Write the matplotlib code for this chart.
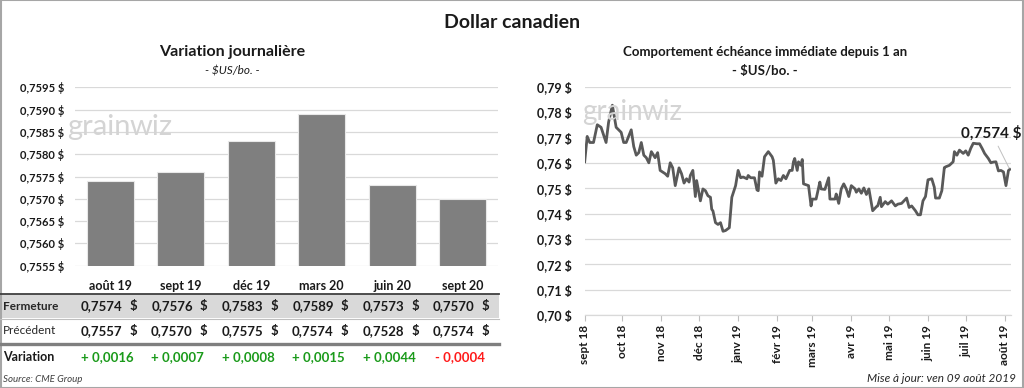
import matplotlib
matplotlib.use("Agg")
import matplotlib.pyplot as plt
import matplotlib.dates as mdates
import matplotlib.transforms as mtransforms
from matplotlib.patches import Rectangle
from matplotlib.lines import Line2D
import numpy as np
import datetime as dt

plt.rcParams['font.family'] = ['Lato', 'DejaVu Sans']

# ---------------- data ----------------
categories = ["août 19", "sept 19", "déc 19", "mars 20", "juin 20", "sept 20"]
fermeture = [0.7574, 0.7576, 0.7583, 0.7589, 0.7573, 0.7570]
precedent = [0.7557, 0.7570, 0.7575, 0.7574, 0.7528, 0.7574]
variation = [0.0016, 0.0007, 0.0008, 0.0015, 0.0044, -0.0004]

left_yticks = [0.7555, 0.7560, 0.7565, 0.7570, 0.7575, 0.7580, 0.7585, 0.7590, 0.7595]
right_yticks = [0.70, 0.71, 0.72, 0.73, 0.74, 0.75, 0.76, 0.77, 0.78, 0.79]

base_date = dt.date(2018, 9, 1)
day_offsets = [0, 2, 4, 7, 10, 13, 17, 19, 22, 25, 27, 29, 31, 33, 37, 39, 41, 43, 45, 47,
               49, 51, 53, 56, 58, 60, 64, 66, 68, 70, 72, 75, 77, 79,
               81, 83, 84, 86, 88, 89, 90, 92, 94, 96, 98, 100, 101, 102, 104, 106, 108,
               110, 112, 115, 117, 120, 122, 124, 126, 129, 130, 132, 135, 137, 138, 139,
               141, 143, 146, 149, 150, 152, 154, 156, 158, 160, 163,
               165, 166, 167, 169, 170, 172, 173, 174, 178, 180, 181, 184, 187, 188, 191,
               194, 195, 199, 200, 202, 204, 206, 208, 210, 212, 215, 216, 218, 220, 222,
               224, 226, 229, 232, 233, 235, 236, 239, 241,
               244, 247, 249, 252, 256, 258, 260, 263, 265, 267, 269, 271, 273, 276, 278,
               279, 282, 284, 286, 287, 290, 293, 294, 296, 298, 301, 303, 305, 307, 309,
               312, 314, 316, 318, 321, 323, 325, 327, 329, 331, 333, 335, 337, 338]
prices = [0.7604, 0.7704, 0.768, 0.768, 0.775, 0.774, 0.768, 0.776, 0.7827, 0.774, 0.773,
          0.772, 0.768, 0.768, 0.773, 0.7664, 0.763, 0.764, 0.768, 0.763,
          0.762, 0.760, 0.7644, 0.762, 0.764, 0.757, 0.7557, 0.7547, 0.760, 0.758, 0.751,
          0.758, 0.7557, 0.752,
          0.7537, 0.7524, 0.755, 0.757, 0.7467, 0.753, 0.7504, 0.745, 0.7497, 0.749, 0.747,
          0.7464, 0.7417, 0.741, 0.7364, 0.7357, 0.7364,
          0.733, 0.7333, 0.7344, 0.7464, 0.751, 0.757, 0.7541, 0.7544, 0.7537, 0.755, 0.7541,
          0.7541, 0.7493, 0.749, 0.7564,
          0.7547, 0.7624, 0.7644, 0.7624, 0.761, 0.752, 0.7537, 0.753, 0.755, 0.7537, 0.757,
          0.757, 0.7604, 0.7617, 0.757, 0.7604, 0.759, 0.7613, 0.7517, 0.751, 0.743, 0.7457,
          0.7457, 0.7524, 0.7497, 0.7495,
          0.7541, 0.7457, 0.7457, 0.7477, 0.744, 0.7497, 0.7517, 0.7497, 0.7467, 0.751,
          0.7497, 0.7484, 0.7497, 0.748, 0.7501,
          0.7475, 0.7497, 0.7411, 0.7427, 0.743, 0.7464, 0.7427, 0.7447, 0.7437,
          0.745, 0.743, 0.7437, 0.744, 0.7461, 0.7424, 0.743, 0.7411, 0.7395, 0.7395, 0.745,
          0.7467, 0.7533, 0.7537, 0.7504,
          0.7461, 0.7461, 0.749, 0.7581, 0.7584, 0.759, 0.7604, 0.7644, 0.763, 0.765, 0.7637,
          0.7647, 0.763, 0.7657, 0.7677,
          0.7675, 0.7675, 0.7657, 0.7637, 0.7617, 0.760, 0.7603, 0.7604, 0.7568, 0.757,
          0.7564, 0.751, 0.757, 0.7574]
month_labels = ["sept 18", "oct 18", "nov 18", "déc 18", "janv 19", "févr 19", "mars 19",
                "avr 19", "mai 19", "juin 19", "juil 19", "août 19"]

# ---------------- layout helpers ----------------
W, H = 1024, 388
fig = plt.figure(figsize=(W / 100, H / 100), dpi=100)
fig.patch.set_facecolor("white")


def fx(x):
    return x / W


def fy(y):
    return 1 - y / H


def fmt(v, dec):
    return f"{v:.{dec}f}".replace(".", ",")


GRID = "#d9d9d9"
TXT = "#1a1a1a"

# ---------------- titles ----------------
fig.text(fx(512), fy(22), "Dollar canadien", ha="center", va="center",
         fontsize=14, fontweight="bold", color=TXT)
fig.text(fx(232), fy(52), "Variation journalière", ha="center", va="center",
         fontsize=11.5, fontweight="bold", color=TXT)
fig.text(fx(232), fy(71), "- $US/bo. -", ha="center", va="center",
         fontsize=8.5, fontstyle="italic", color=TXT)
fig.text(fx(765), fy(52), "Comportement échéance immédiate depuis 1 an", ha="center",
         va="center", fontsize=9.5, fontweight="bold", color=TXT)
fig.text(fx(765), fy(71), "- $US/bo. -", ha="center", va="center",
         fontsize=9.5, fontweight="bold", color=TXT)

# ---------------- left bar chart ----------------
axL = fig.add_axes([fx(75), fy(265.7), (498 - 75) / W, (265.7 - 87.3) / H])
xpos = np.arange(len(categories))
axL.bar(xpos, fermeture, width=0.66, color="#7f7f7f", edgecolor="#e8e8e8",
        linewidth=0.8, zorder=2)
axL.set_xlim(-0.5, len(categories) - 0.5)
axL.set_ylim(left_yticks[0], left_yticks[-1])
axL.set_yticks(left_yticks)
axL.set_yticklabels([fmt(v, 4) + " $" for v in left_yticks])
axL.set_xticks([])
axL.grid(axis="y", color=GRID, lw=0.9, zorder=0)
axL.set_axisbelow(True)
for s in axL.spines.values():
    s.set_visible(False)
axL.tick_params(axis="y", length=0, pad=8, labelsize=8, labelcolor=TXT)
for lab in axL.get_yticklabels():
    lab.set_fontweight("bold")

# watermark
fig.text(fx(67), fy(127), "grain", ha="left", va="center", fontsize=21,
         color="#d4d4d4", zorder=0)
fig.text(fx(130), fy(127), "wiz", ha="left", va="center", fontsize=21,
         color="#d4d4d4", zorder=0)
fig.text(fx(582), fy(112), "grain", ha="left", va="center", fontsize=20,
         color="#d4d4d4", zorder=0)
fig.text(fx(642), fy(112), "wiz", ha="left", va="center", fontsize=20,
         color="#d4d4d4", zorder=0)

# ---------------- table ----------------
tr = mtransforms.blended_transform_factory(axL.transData, fig.transFigure)
fig.add_artist(Rectangle((0, fy(318)), fx(499), (318 - 294) / H, transform=fig.transFigure,
                         facecolor="#d9d9d9", edgecolor="none", zorder=0))
fig.add_artist(Line2D([0, fx(499)], [fy(293.5), fy(293.5)], transform=fig.transFigure,
                      color="#404040", lw=1.3))
fig.add_artist(Line2D([0, fx(499)], [fy(318.5), fy(318.5)], transform=fig.transFigure,
                      color="#bfbfbf", lw=0.8))
fig.add_artist(Line2D([0, fx(499)], [fy(344), fy(344)], transform=fig.transFigure,
                      color="#7f7f7f", lw=2.4))

fig.text(fx(3), fy(306), "Fermeture", ha="left", va="center", fontsize=8.5,
         fontweight="bold", color="#262626")
fig.text(fx(3), fy(331), "Précédent", ha="left", va="center", fontsize=8.5,
         color="#262626")
fig.text(fx(3), fy(357), "Variation", ha="left", va="center", fontsize=9,
         fontweight="bold", color=TXT)

for i, cat in enumerate(categories):
    fig.text(xpos[i], fy(286), cat, transform=tr, ha="center", va="center",
             fontsize=9, fontweight="bold", color=TXT)
    for yrow, vals in ((306, fermeture), (331, precedent)):
        t1 = mtransforms.offset_copy(tr, fig=fig, x=12 * 0.72, y=0, units="points")
        fig.text(xpos[i], fy(yrow), fmt(vals[i], 4), transform=t1, ha="right",
                 va="center", fontsize=9.5, fontweight="bold", color=TXT)
        t2 = mtransforms.offset_copy(tr, fig=fig, x=23 * 0.72, y=0, units="points")
        fig.text(xpos[i], fy(yrow), "$", transform=t2, ha="center", va="center",
                 fontsize=9.5, fontweight="bold", color=TXT)
    v = variation[i]
    col = "#1a9a1a" if v >= 0 else "#ff1a1a"
    sign = "+ " if v >= 0 else "- "
    t3 = mtransforms.offset_copy(tr, fig=fig, x=-3 * 0.72, y=0, units="points")
    fig.text(xpos[i], fy(357), sign + fmt(abs(v), 4), transform=t3, ha="center",
             va="center", fontsize=9.5, fontweight="bold", color=col)

fig.text(fx(3), fy(379), "Source: CME Group", ha="left", va="center", fontsize=7,
         fontstyle="italic", color="#404040")
fig.text(fx(1016), fy(378), "Mise à jour: ven 09 août 2019", ha="right", va="center",
         fontsize=8.5, fontstyle="italic", color="#262626")

# ---------------- right line chart ----------------
axR = fig.add_axes([fx(584.7), fy(315), (1011 - 584.7) / W, (315 - 86.7) / H])
dates = [base_date + dt.timedelta(days=d) for d in day_offsets]
axR.plot(dates, prices, color="#595959", lw=2.0, zorder=3)
axR.set_xlim(base_date, base_date + dt.timedelta(days=339))
axR.set_ylim(right_yticks[0], right_yticks[-1])
axR.set_yticks(right_yticks)
axR.set_yticklabels([fmt(v, 2) + " $" for v in right_yticks])
axR.grid(axis="y", color=GRID, lw=0.9, zorder=0)
axR.set_axisbelow(True)
for name, s in axR.spines.items():
    if name == "bottom":
        s.set_color(GRID)
        s.set_linewidth(0.9)
    else:
        s.set_visible(False)
month_ticks = [dt.date(2018 + (8 + k) // 12, (8 + k) % 12 + 1, 1) for k in range(len(month_labels))]
axR.set_xticks(month_ticks)
axR.set_xticklabels(month_labels, rotation=90)
axR.tick_params(axis="x", length=4, color="#bfbfbf", labelsize=8.5, labelcolor=TXT, pad=3)
axR.tick_params(axis="y", length=0, pad=9, labelsize=9, labelcolor=TXT)
for lab in axR.get_yticklabels() + axR.get_xticklabels():
    lab.set_fontweight("bold")

axR.annotate(fmt(prices[-1], 4) + " $", xy=(dates[-1], prices[-1]),
             xytext=(-13, 26), textcoords="offset points", ha="center", va="center",
             fontsize=11, fontweight="bold", color=TXT,
             arrowprops=dict(arrowstyle="-", color="#c0c0c0", lw=0.7,
                             shrinkA=2, shrinkB=1))

# border
fig.add_artist(Rectangle((0.0005, 0.001), 0.999, 0.998, transform=fig.transFigure,
                         fill=False, edgecolor="#a6a6a6", lw=1.5))

fig.savefig("out.png", dpi=100)
